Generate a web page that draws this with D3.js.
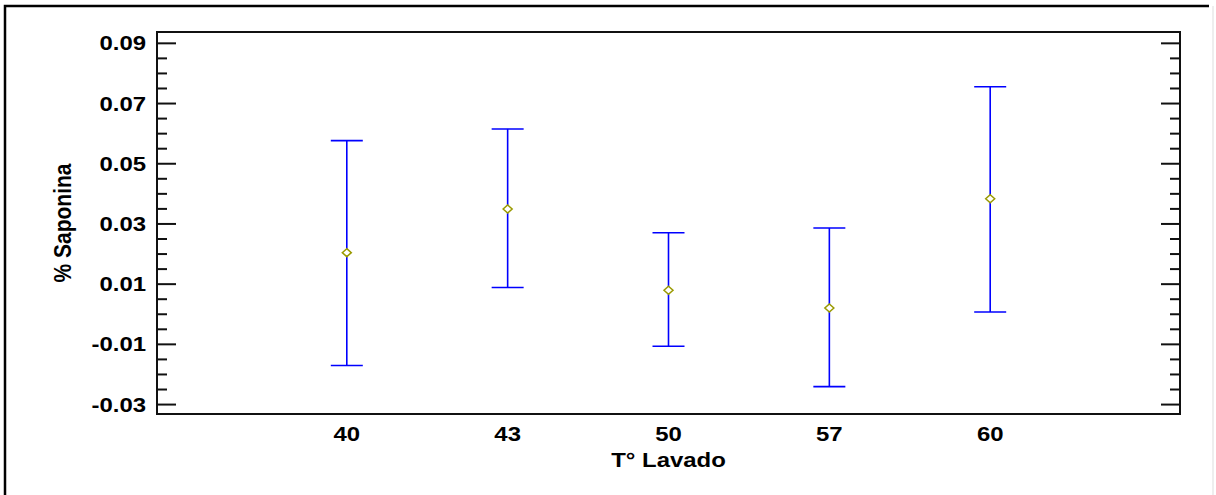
<!DOCTYPE html>
<html>
<head>
<meta charset="utf-8">
<script src="https://cdn.jsdelivr.net/npm/d3@7"></script>
<style>
  html, body { margin: 0; padding: 0; background: #fff; }
  svg { display: block; }
  text { font-family: "Liberation Sans", Arial, sans-serif; font-weight: bold; fill: #000; }
</style>
</head>
<body>
<svg id="chart" width="1216" height="495"></svg>
<script>
// Washing temperature groups and the saponin interval for each one
const categories = ["40", "43", "50", "57", "60"];
const means = [0.0203, 0.0348, 0.0078, 0.0019, 0.0382];
const lower = [-0.0172, 0.0087, -0.0108, -0.0242, 0.0006];
const upper = [0.0575, 0.0614, 0.0269, 0.0285, 0.0754];
const yMajorTicks = [-0.03, -0.01, 0.01, 0.03, 0.05, 0.07, 0.09];
const yMinorTicks = [-0.025, -0.02, -0.015, -0.005, 0, 0.005, 0.015, 0.02, 0.025,
                     0.035, 0.04, 0.045, 0.055, 0.06, 0.065, 0.075, 0.08, 0.085];

const svg = d3.select("#chart");
const plot = { left: 157, right: 1180, top: 32, bottom: 414 };
const STRETCH = 1.14;   // wide lettering

const x = d3.scalePoint().domain(categories).range([plot.left, plot.right]).padding(1.18);
const y = d3.scaleLinear().domain([-0.0333, 0.0936]).range([plot.bottom, plot.top]);

// outer frame
svg.append("path")
  .attr("d", "M5,497 L5,6 L1209,6")
  .attr("fill", "none").attr("stroke", "#000").attr("stroke-width", 2.5);
svg.append("line")
  .attr("x1", 1213).attr("x2", 1213).attr("y1", 6).attr("y2", 495)
  .attr("stroke", "#ddd").attr("stroke-width", 1);

// plot box
svg.append("rect")
  .attr("x", plot.left).attr("y", plot.top)
  .attr("width", plot.right - plot.left).attr("height", plot.bottom - plot.top)
  .attr("fill", "none").attr("stroke", "#111").attr("stroke-width", 2);

// ticks on left and right edges (pointing inward)
function tickAxis(gen, xPos, values, len) {
  const g = svg.append("g").attr("transform", `translate(${xPos},0)`)
    .call(gen(y).tickValues(values).tickSize(-len).tickFormat(""));
  g.select(".domain").remove();
  g.selectAll(".tick line").attr("stroke", "#111").attr("stroke-width", 2);
  return g;
}
tickAxis(d3.axisLeft, plot.left, yMajorTicks, 19);
tickAxis(d3.axisLeft, plot.left, yMinorTicks, 10);
tickAxis(d3.axisRight, plot.right, yMajorTicks, 19);
tickAxis(d3.axisRight, plot.right, yMinorTicks, 10);

// y tick labels (plain hyphen for negatives)
const fmt = d => d3.format(".2f")(d).replace("\u2212", "-");
svg.append("g").selectAll("text").data(yMajorTicks).join("text")
  .attr("transform", d => `translate(146,${y(d)}) scale(${STRETCH},1)`)
  .attr("text-anchor", "end").attr("dy", "0.36em")
  .attr("font-size", 21)
  .text(d => fmt(d));

// x tick labels
svg.append("g").selectAll("text").data(categories).join("text")
  .attr("transform", d => `translate(${x(d)},433) scale(${STRETCH},1)`)
  .attr("text-anchor", "middle").attr("dy", "0.36em")
  .attr("font-size", 21)
  .text(d => d);

// axis titles
svg.append("text")
  .attr("transform", `translate(${(plot.left + plot.right) / 2},459) scale(${STRETCH},1)`)
  .attr("text-anchor", "middle").attr("dy", "0.36em")
  .attr("font-size", 21)
  .text("T° Lavado");
svg.append("text")
  .attr("transform", `translate(62,${(plot.top + plot.bottom) / 2}) scale(${STRETCH},1) rotate(-90)`)
  .attr("text-anchor", "middle").attr("dy", "0.36em")
  .attr("font-size", 21)
  .text("% Saponina");

// interval bars
const capHalf = 16;
const bars = svg.append("g").selectAll("g").data(categories).join("g");
bars.append("line")
  .attr("x1", d => x(d)).attr("x2", d => x(d))
  .attr("y1", (d, i) => y(upper[i])).attr("y2", (d, i) => y(lower[i]))
  .attr("stroke", "#0000ff").attr("stroke-width", 1.6);
bars.append("line")
  .attr("x1", d => x(d) - capHalf).attr("x2", d => x(d) + capHalf)
  .attr("y1", (d, i) => y(upper[i])).attr("y2", (d, i) => y(upper[i]))
  .attr("stroke", "#0000ff").attr("stroke-width", 1.6);
bars.append("line")
  .attr("x1", d => x(d) - capHalf).attr("x2", d => x(d) + capHalf)
  .attr("y1", (d, i) => y(lower[i])).attr("y2", (d, i) => y(lower[i]))
  .attr("stroke", "#0000ff").attr("stroke-width", 1.6);

// mean markers (hollow diamonds)
bars.append("path")
  .attr("transform", (d, i) => `translate(${x(d)},${y(means[i])})`)
  .attr("d", "M0,-4 L4.5,0 L0,4 L-4.5,0 Z")
  .attr("fill", "#fff").attr("stroke", "#9a9a00").attr("stroke-width", 1.5);
</script>
</body>
</html>
